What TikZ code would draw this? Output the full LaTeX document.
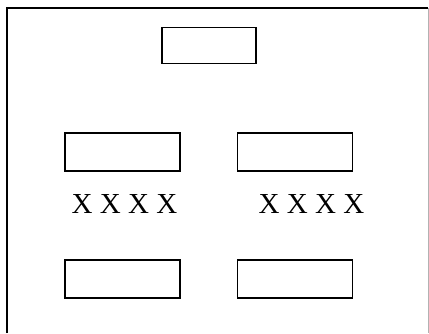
\documentclass[tikz,border=0pt]{standalone}
\usepackage{fontspec}
\setmainfont{Liberation Serif}
\usetikzlibrary{positioning}

\begin{document}
\begin{tikzpicture}[x=1pt, y=-1pt]
	\tikzset{
		box/.style={draw, line width=1.8pt, minimum width=115pt, minimum height=38pt, inner sep=0pt},
		topbox/.style={box, minimum width=94pt, minimum height=36pt},
		xlabel/.style={font=\fontsize{29}{34}\selectfont, inner sep=0pt}
	}
	\useasboundingbox (0,0) rectangle (429,333);
	
	% frame
	\draw[line width=2pt] (7,333) -- (7,8) -- (428,8);
	\draw[line width=1pt, black!30] (428,8) -- (428,333);
	
	\node[topbox] (top) at (209,45.5) {};
	\foreach \s/\x/\t in {L/122.5/124.5, R/295/311.5} {
		\node[box] (mid\s) at (\x,152) {};
		\node[xlabel] (txt\s) at (\t,204) {X X X X};
		\node[box] (bot\s) at (\x,279) {};
	}
\end{tikzpicture}
\end{document}
